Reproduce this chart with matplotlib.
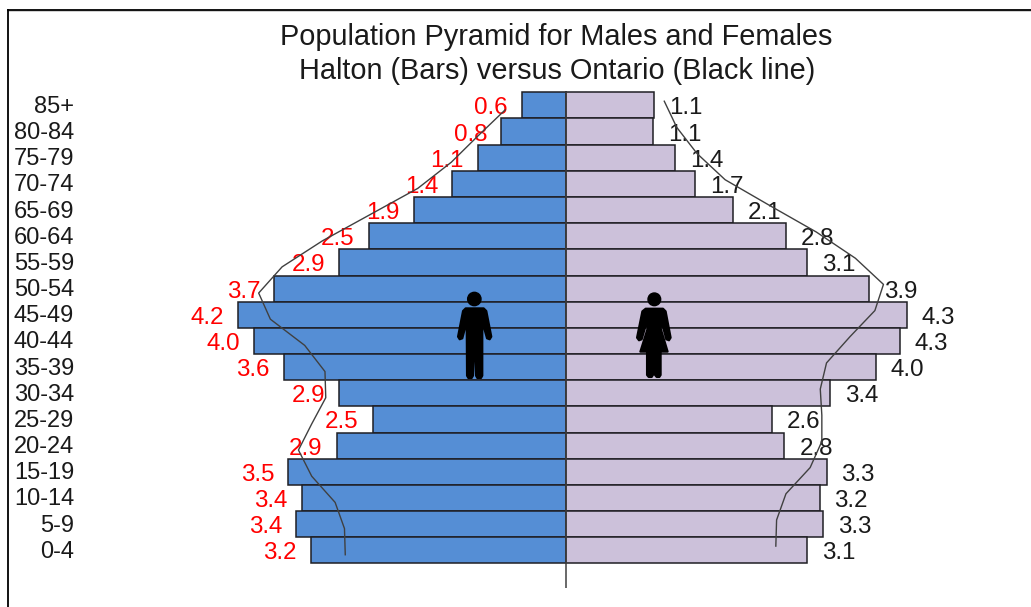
import matplotlib
matplotlib.use('Agg')
import matplotlib.pyplot as plt
from matplotlib.patches import Circle, Polygon
from matplotlib.lines import Line2D
from matplotlib.transforms import ScaledTranslation

plt.rcParams['font.family'] = ['Liberation Sans', 'DejaVu Sans']

W, H = 1031, 607
CENTRE, UNIT = 566.0, 78.0   # pixel of the zero line, pixels per percent
TOP, PITCH = 105.4, 26.17    # pixel of the first bar centre, pixels per bar

ages = ['85+', '80-84', '75-79', '70-74', '65-69', '60-64', '55-59', '50-54', '45-49',
        '40-44', '35-39', '30-34', '25-29', '20-24', '15-19', '10-14', '5-9', '0-4']
# bars (Halton)
males = [0.57, 0.83, 1.13, 1.46, 1.95, 2.53, 2.91, 3.74, 4.21,
         4.00, 3.62, 2.91, 2.48, 2.94, 3.56, 3.39, 3.46, 3.27]
females = [1.13, 1.12, 1.40, 1.66, 2.14, 2.82, 3.09, 3.88, 4.37,
           4.28, 3.97, 3.39, 2.64, 2.80, 3.34, 3.25, 3.29, 3.09]
# printed labels
male_labels = ['0.6', '0.8', '1.1', '1.4', '1.9', '2.5', '2.9', '3.7', '4.2',
               '4.0', '3.6', '2.9', '2.5', '2.9', '3.5', '3.4', '3.4', '3.2']
female_labels = ['1.1', '1.1', '1.4', '1.7', '2.1', '2.8', '3.1', '3.9', '4.3',
                 '4.3', '4.0', '3.4', '2.6', '2.8', '3.3', '3.2', '3.3', '3.1']
# Ontario (black line)
ontario_m = [0.78, 1.13, 1.47, 1.90, 2.51, 3.12, 3.64, 3.94, 3.79,
             3.35, 3.09, 3.08, 3.26, 3.43, 3.26, 2.96, 2.84, 2.83]
ontario_f = [1.26, 1.42, 1.68, 2.04, 2.62, 3.21, 3.71, 4.07, 3.96,
             3.64, 3.34, 3.26, 3.28, 3.28, 3.13, 2.82, 2.70, 2.69]

BLUE = '#558ed5'
LILAC = '#ccc1da'
EDGE = '#1f1f24'
FONT = 17.4
TITLE_FONT = 20.8
GAP_M, GAP_F = 14, 15   # px between bar end and label


def px(x):
    return x * 72.0 / 100


fig = plt.figure(figsize=(W / 100, H / 100), dpi=100)
left = 80.0
ax = fig.add_axes([left / W, 0, 1 - left / W, 1])
ax.set_xlim((left - CENTRE) / UNIT, (W - CENTRE) / UNIT)
ax.set_ylim((H - TOP) / PITCH, -TOP / PITCH)
ax.patch.set_alpha(0)

pos = list(range(len(ages)))
ax.barh(pos, [-v for v in males], height=1.0, color=BLUE, edgecolor=EDGE, linewidth=1.1)
ax.barh(pos, females, height=1.0, color=LILAC, edgecolor=EDGE, linewidth=1.1)
ax.vlines(0, -0.5, 18.44, color='#404040', linewidth=1.1, zorder=3)

# the Ontario lines sit on their own slightly shifted category axis in the original
ax.plot([-v for v in ontario_m], [p + 0.17 for p in pos], color='#404040', linewidth=1.0, zorder=4)
ax.plot(ontario_f, [p - 0.16 for p in pos], color='#404040', linewidth=1.0, zorder=4)

for p, v, s in zip(pos, males, male_labels):
    ax.annotate(s, (-v, p), xytext=(px(-GAP_M), px(-3)), textcoords='offset points',
                ha='right', va='center', color='#ff0000', fontsize=FONT)
for p, v, s in zip(pos, females, female_labels):
    ax.annotate(s, (v, p), xytext=(px(GAP_F), px(-3)), textcoords='offset points',
                ha='left', va='center', color='#1a1a1a', fontsize=FONT)

ax.set_yticks(pos)
ax.set_yticklabels(ages, fontsize=17, color='#1a1a1a')
ax.tick_params(axis='y', length=0, pad=px(6))
shift = ScaledTranslation(0, 1.0 / 100, fig.dpi_scale_trans)
for lab in ax.get_yticklabels():
    lab.set_transform(lab.get_transform() + shift)
ax.set_xticks([])
for s in ax.spines.values():
    s.set_visible(False)

fig.text(556 / W, 1 - 37 / H, 'Population Pyramid for Males and Females', ha='center', va='center',
         fontsize=TITLE_FONT, color='#1a1a1a')
fig.text(557 / W, 1 - 71 / H, 'Halton (Bars) versus Ontario (Black line)', ha='center', va='center',
         fontsize=TITLE_FONT, color='#1a1a1a')

# frame of the pasted slide, and the two pictograms, in pixels
over = fig.add_axes([0, 0, 1, 1])
over.set_xlim(0, W)
over.set_ylim(H, 0)
over.axis('off')
over.patch.set_alpha(0)
over.add_line(Line2D([7.5, W], [11, 11], color='#c8c8c8', linewidth=1.2))
over.add_line(Line2D([7.5, W], [9.5, 9.5], color='black', linewidth=1.3))
over.add_line(Line2D([7.5, 7.5], [9.5, H], color='black', linewidth=1.3))


def figure_icon(x0, y0, outline, head):
    # outline and head come in crop pixels (3x zoom of a 60x100 crop)
    pts = [(x0 + a / 3, y0 + b / 3) for a, b in outline]
    over.add_patch(Polygon(pts, closed=True, facecolor='black', edgecolor='black',
                           linewidth=1.5, joinstyle='round'))
    over.add_patch(Circle((x0 + head[0] / 3, y0 + head[1] / 3), head[2] / 3, color='black'))


man = [(62, 70), (116, 70), (124, 78), (139, 155), (134, 163), (126, 160), (112, 110), (112, 272),
       (108, 279), (97, 279), (93, 272), (90, 195), (86, 195), (84, 272), (80, 279), (70, 279),
       (66, 272), (65, 110), (52, 160), (44, 163), (39, 155), (54, 78)]
woman = [(62, 71), (114, 71), (122, 79), (137, 158), (132, 166), (124, 163), (110, 112), (107, 130),
         (128, 200), (107, 200), (107, 270), (103, 276), (95, 276), (90, 270), (90, 200), (84, 200),
         (84, 270), (80, 276), (71, 276), (66, 270), (66, 200), (46, 200), (68, 130), (65, 112),
         (50, 163), (42, 166), (36, 158), (52, 79)]
figure_icon(445, 285, man, (88, 42, 20))
figure_icon(625, 285, woman, (88, 43, 19))

fig.savefig('out.png', dpi=100)
